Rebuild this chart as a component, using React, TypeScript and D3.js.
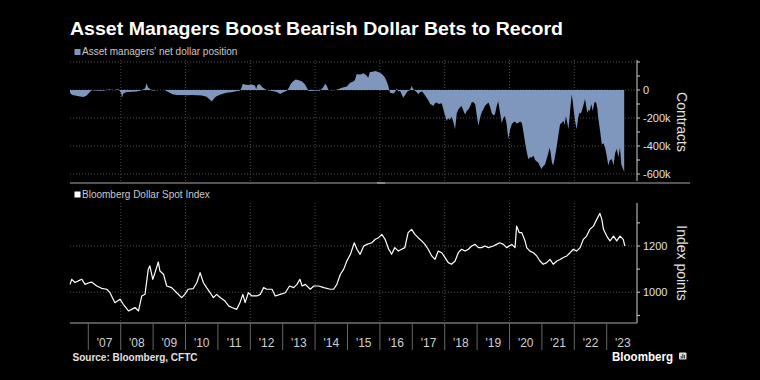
import React, { useEffect } from "react";
import * as d3 from "d3";

// ---- Data ----
// Asset managers' net dollar position (thousand contracts), decimal years
const positionYears = [
  2006.435, 2006.5, 2006.59, 2006.7, 2006.85, 2006.95, 2007.05, 2007.1, 2007.36, 2007.5, 2007.62, 2007.8, 2007.93,
  2008.01, 2008.04, 2008.08, 2008.19, 2008.35, 2008.49, 2008.6, 2008.75, 2008.8, 2008.84, 2008.9, 2008.98,
  2009.06, 2009.21, 2009.35, 2009.47, 2009.6, 2009.73, 2009.9, 2010.04, 2010.2, 2010.35, 2010.5, 2010.65,
  2010.78, 2010.81, 2010.9, 2010.96, 2011.1, 2011.27, 2011.45, 2011.6, 2011.68, 2011.72, 2011.77, 2011.85,
  2011.95, 2012.05, 2012.15, 2012.18, 2012.22, 2012.28, 2012.35, 2012.4, 2012.5, 2012.6, 2012.76, 2012.85,
  2012.92, 2013.0, 2013.13, 2013.2, 2013.25, 2013.33, 2013.4, 2013.5, 2013.6, 2013.69, 2013.75, 2013.79,
  2013.9, 2014.0, 2014.15, 2014.25, 2014.31, 2014.36, 2014.41, 2014.55, 2014.67, 2014.8, 2014.98, 2015.08,
  2015.18, 2015.23, 2015.28, 2015.4, 2015.49, 2015.58, 2015.64, 2015.69, 2015.78, 2015.85, 2015.93, 2016.0,
  2016.08, 2016.16, 2016.22, 2016.26, 2016.31, 2016.36, 2016.42, 2016.47, 2016.52, 2016.57, 2016.62, 2016.67,
  2016.72, 2016.78, 2016.85, 2016.93, 2016.98, 2017.03, 2017.08, 2017.13, 2017.19, 2017.24, 2017.3, 2017.37,
  2017.44, 2017.5, 2017.55, 2017.6, 2017.65, 2017.7, 2017.75, 2017.82, 2017.91, 2017.96, 2018.01, 2018.06,
  2018.11, 2018.16, 2018.21, 2018.27, 2018.32, 2018.37, 2018.42, 2018.47, 2018.52, 2018.58, 2018.63, 2018.68,
  2018.73, 2018.78, 2018.83, 2018.88, 2018.94, 2018.99, 2019.04, 2019.09, 2019.14, 2019.19, 2019.24, 2019.3,
  2019.35, 2019.4, 2019.45, 2019.5, 2019.55, 2019.6, 2019.65, 2019.7, 2019.76, 2019.81, 2019.86, 2019.91,
  2019.96, 2020.02, 2020.07, 2020.12, 2020.17, 2020.22, 2020.27, 2020.33, 2020.38, 2020.43, 2020.48, 2020.53,
  2020.58, 2020.63, 2020.68, 2020.74, 2020.79, 2020.84, 2020.89, 2020.94, 2020.99, 2021.04, 2021.1, 2021.15,
  2021.2, 2021.24, 2021.27, 2021.31, 2021.35, 2021.4, 2021.46, 2021.51, 2021.56, 2021.61, 2021.66, 2021.7,
  2021.74, 2021.78, 2021.82, 2021.87, 2021.92, 2021.95, 2021.99, 2022.03, 2022.07, 2022.12, 2022.16, 2022.2,
  2022.23, 2022.28, 2022.33, 2022.37, 2022.4, 2022.44, 2022.48, 2022.52, 2022.57, 2022.62, 2022.67, 2022.71,
  2022.74, 2022.8, 2022.85, 2022.9, 2022.95, 2023.0, 2023.05, 2023.1, 2023.16, 2023.21, 2023.26, 2023.31,
  2023.36, 2023.41, 2023.45, 2023.5, 2023.54,
];
const positionValues = [
  -20, -35, -40, -45, -50, -40, -15, -2, -5, -3, 3, 0, 5,
  -20, -55, -25, -15, -12, -10, -5, 10, 48, 20, 8, -5,
  -2, 0, 0, -15, -30, -35, -35, -38, -35, -38, -40, -48,
  -75, -82, -55, -45, -30, -20, -15, -8, -5, 10, 45, 38,
  35, 40, 30, 5, 35, 42, 25, 15, 0, -3, -10, -18,
  -28, -18, -5, 20, 45, 65, 75, 70, 60, 40, 15, -5,
  -8, -3, -5, 20, 45, 30, 0, -2, 2, 15, 25, 52,
  60, 71, 112, 110, 119, 105, 88, 128, 130, 135, 130, 124,
  110, 88, 55, 28, -19, -22, -25, -15, 10, -10, -5, -30,
  -55, -35, -10, 0, 28, 5, -5, -15, -30, -15, -10, -30,
  -55, -75, -100, -105, -115, -95, -90, -100, -95, -140, -180, -220,
  -200, -215, -190, -230, -280, -170, -140, -125, -115, -150, -175, -150,
  -140, -120, -90, -85, -100, -180, -255, -200, -160, -140, -115, -100,
  -90, -120, -165, -180, -175, -120, -80, -150, -235, -200, -185, -240,
  -350, -280, -245, -230, -225, -240, -235, -225, -235, -300, -375, -440,
  -495, -480, -483, -470, -500, -510, -520, -545, -565, -545, -530, -490,
  -450, -410, -450, -520, -540, -480, -400, -320, -245, -235, -220, -250,
  -185, -230, -280, -150, -30, -80, -160, -230, -280, -200, -160, -170,
  -150, -110, -65, -120, -165, -140, -150, -100, -150, -90, -85, -130,
  -200, -300, -390, -380, -410, -470, -540, -500, -495, -540, -450, -420,
  -480, -410, -530, -560, -585,
];

// Bloomberg Dollar Spot Index (index points)
const indexYears = [
  2006.435, 2006.49, 2006.59, 2006.69, 2006.8, 2006.9, 2007.0, 2007.1, 2007.26, 2007.41, 2007.57, 2007.67,
  2007.82, 2007.98, 2008.08, 2008.24, 2008.34, 2008.44, 2008.55, 2008.65, 2008.75, 2008.85, 2008.9, 2008.99,
  2009.06, 2009.16, 2009.21, 2009.32, 2009.42, 2009.57, 2009.73, 2009.88, 2009.98, 2010.08, 2010.24, 2010.35,
  2010.45, 2010.55, 2010.65, 2010.76, 2010.86, 2010.96, 2011.07, 2011.22, 2011.33, 2011.43, 2011.58, 2011.68,
  2011.77, 2011.84, 2011.94, 2012.05, 2012.2, 2012.31, 2012.41, 2012.51, 2012.67, 2012.77, 2012.92, 2013.08,
  2013.21, 2013.34, 2013.44, 2013.53, 2013.6, 2013.7, 2013.85, 2013.96, 2014.11, 2014.27, 2014.47, 2014.57,
  2014.67, 2014.78, 2014.88, 2014.98, 2015.09, 2015.21, 2015.29, 2015.39, 2015.5, 2015.6, 2015.75, 2015.86,
  2015.96, 2016.06, 2016.16, 2016.27, 2016.31, 2016.36, 2016.46, 2016.57, 2016.67, 2016.77, 2016.87, 2016.98,
  2017.08, 2017.18, 2017.29, 2017.39, 2017.49, 2017.6, 2017.7, 2017.8, 2017.91, 2018.01, 2018.11, 2018.21,
  2018.32, 2018.42, 2018.52, 2018.63, 2018.73, 2018.83, 2018.94, 2019.04, 2019.14, 2019.24, 2019.35, 2019.5,
  2019.6, 2019.7, 2019.81, 2019.91, 2020.07, 2020.17, 2020.22, 2020.3, 2020.38, 2020.48, 2020.53, 2020.63,
  2020.74, 2020.84, 2020.94, 2021.04, 2021.15, 2021.25, 2021.35, 2021.46, 2021.56, 2021.66, 2021.77, 2021.87,
  2021.97, 2022.07, 2022.18, 2022.28, 2022.38, 2022.48, 2022.59, 2022.69, 2022.79, 2022.85, 2022.9, 2023.0,
  2023.1, 2023.21, 2023.31, 2023.41, 2023.51, 2023.56,
];
const indexValues = [
  1034, 1056, 1042, 1049, 1056, 1034, 1040, 1044, 1027, 1017, 1013, 998,
  955, 970, 948, 919, 926, 934, 919, 984, 991, 1099, 1114, 1056,
  1085, 1131, 1092, 1078, 1027, 1020, 998, 977, 991, 1013, 1016, 1042,
  1085, 1042, 1020, 998, 977, 991, 977, 962, 941, 934, 926, 955,
  991, 955, 998, 984, 984, 991, 1020, 1013, 1013, 984, 991, 998,
  1027, 1020, 1034, 1056, 1027, 1034, 1013, 1027, 1027, 1020, 1013, 1013,
  1034, 1078, 1099, 1135, 1164, 1214, 1186, 1164, 1200, 1207, 1214, 1229,
  1236, 1250, 1229, 1186, 1178, 1164, 1193, 1178, 1186, 1193, 1258, 1272,
  1250, 1236, 1222, 1207, 1186, 1157, 1142, 1178, 1171, 1150, 1128, 1121,
  1135, 1171, 1186, 1178, 1186, 1200, 1207, 1193, 1193, 1200, 1193, 1200,
  1207, 1214, 1207, 1193, 1207, 1193, 1286, 1258, 1258, 1222, 1193, 1178,
  1171, 1157, 1135, 1121, 1128, 1142, 1121, 1135, 1142, 1150, 1157, 1171,
  1186, 1178, 1193, 1229, 1243, 1272, 1286, 1315, 1341, 1315, 1272, 1243,
  1222, 1243, 1222, 1243, 1229, 1200,
];

const yearTicks = [2007, 2008, 2009, 2010, 2011, 2012, 2013, 2014, 2015, 2016, 2017, 2018, 2019, 2020, 2021, 2022, 2023];
const yearLabels = ["'07", "'08", "'09", "'10", "'11", "'12", "'13", "'14", "'15", "'16", "'17", "'18", "'19", "'20", "'21", "'22", "'23"];
const gridYears = [2008, 2010, 2012, 2014, 2016, 2018, 2020, 2022];
const positionTicks = [200, 100, 0, -100, -200, -300, -400, -500, -600];
const positionGrid = [200, 0, -200, -400, -600];
const positionLabelValues = [0, -200, -400, -600];
const positionLabels = ["0", "-200k", "-400k", "-600k"];
const indexTicks = [900, 1000, 1100, 1200, 1300];
const indexLabelValues = [1000, 1200];
const indexLabels = ["1000", "1200"];

const FONT = "'Liberation Sans', Arial, sans-serif";

export default function App() {
  useEffect(() => {
    document.body.style.margin = "0";
    document.body.style.background = "#000";
  }, []);

  const x = d3.scaleLinear().domain([2006.435, 2023.935]).range([70, 637]);
  const yTop = d3.scaleLinear().domain([-650, 210]).range([181, 60.6]);
  const yBot = d3.scaleLinear().domain([867, 1386]).range([323, 203]);

  const posData = positionYears.map((t, i) => [t, positionValues[i]] as [number, number]);
  const idxData = indexYears.map((t, i) => [t, indexValues[i]] as [number, number]);

  const area = d3
    .area<[number, number]>()
    .x((d) => x(d[0]))
    .y0(yTop(0))
    .y1((d) => yTop(d[1]));
  const line = d3
    .line<[number, number]>()
    .x((d) => x(d[0]))
    .y((d) => yBot(d[1]));

  const axisX = 637;
  const gridColor = "#4a4a4a";

  return (
    <svg width={760} height={380} style={{ display: "block", background: "#000" }} fontFamily={FONT}>
      <rect x={0} y={0} width={760} height={380} fill="#000" />
      <text x={70} y={35} fill="#fff" fontSize={19} fontWeight="bold" textLength={493} lengthAdjust="spacingAndGlyphs">
        Asset Managers Boost Bearish Dollar Bets to Record
      </text>

      {/* Top panel legend */}
      <rect x={74.5} y={49} width={6} height={6} fill="#8097bd" />
      <text x={82} y={55} fill="#c8c8c8" fontSize={10}>
        Asset managers' net dollar position
      </text>

      {/* Top panel grid */}
      {gridYears.map((g) => (
        <line key={"tg" + g} x1={x(g)} x2={x(g)} y1={60} y2={181} stroke={gridColor} strokeDasharray="1,2" />
      ))}
      {positionGrid.map((v) => (
        <line key={"th" + v} x1={70} x2={axisX} y1={yTop(v)} y2={yTop(v)} stroke={gridColor} strokeDasharray="1,2" />
      ))}

      <path d={area(posData) || ""} fill="#8097bd" />

      {/* Top right axis */}
      <line x1={axisX} x2={axisX} y1={60} y2={181} stroke="#d0d0d0" strokeWidth={1} />
      {positionTicks.map((v) => (
        <line key={"tt" + v} x1={axisX} x2={axisX + 3} y1={yTop(v)} y2={yTop(v)} stroke="#d0d0d0" />
      ))}
      {positionLabelValues.map((v, i) => (
        <text key={"tl" + v} x={643} y={yTop(v) + 4} fill="#e0e0e0" fontSize={11}>
          {positionLabels[i]}
        </text>
      ))}
      <text transform="translate(677,122) rotate(90)" textAnchor="middle" fill="#e0e0e0" fontSize={14}>
        Contracts
      </text>

      {/* separator bar */}
      <line x1={70} x2={690} y1={183} y2={183} stroke="#555" strokeWidth={2} />
      <line x1={377} x2={385} y1={183} y2={183} stroke="#888" strokeWidth={2} />

      {/* Bottom legend */}
      <rect x={74.5} y={191.5} width={6} height={6} fill="#fff" />
      <text x={82} y={198} fill="#c8c8c8" fontSize={10}>
        Bloomberg Dollar Spot Index
      </text>

      {/* Bottom grid */}
      {gridYears.map((g) => (
        <line key={"bg" + g} x1={x(g)} x2={x(g)} y1={203} y2={323} stroke={gridColor} strokeDasharray="1,2" />
      ))}
      {indexLabelValues.map((v) => (
        <line key={"bh" + v} x1={70} x2={axisX} y1={yBot(v)} y2={yBot(v)} stroke={gridColor} strokeDasharray="1,2" />
      ))}

      <path d={line(idxData) || ""} fill="none" stroke="#fff" strokeWidth={1.2} strokeLinejoin="round" />

      {/* Bottom right axis */}
      <line x1={axisX} x2={axisX} y1={203} y2={323} stroke="#d0d0d0" />
      {indexTicks.map((v) => (
        <line key={"bt" + v} x1={axisX} x2={axisX + 3} y1={yBot(v)} y2={yBot(v)} stroke="#d0d0d0" />
      ))}
      {indexLabelValues.map((v, i) => (
        <text key={"bl" + v} x={643} y={yBot(v) + 4} fill="#e0e0e0" fontSize={11}>
          {indexLabels[i]}
        </text>
      ))}
      <text transform="translate(677,263) rotate(90)" textAnchor="middle" fill="#e0e0e0" fontSize={14}>
        Index points
      </text>

      {/* X axis */}
      <line x1={70} x2={axisX} y1={323} y2={323} stroke="#aaa" />
      {yearTicks.map((t) => (
        <line key={"xt" + t} x1={x(t)} x2={x(t)} y1={323} y2={350} stroke="#666" />
      ))}
      {yearTicks.map((t, i) => (
        <text key={"xl" + t} x={x(t + 0.5)} y={347} textAnchor="middle" fill="#d0d0d0" fontSize={12}>
          {yearLabels[i]}
        </text>
      ))}

      {/* Footer */}
      <text x={72.5} y={361} fill="#e0e0e0" fontSize={10} fontWeight="bold">
        Source: Bloomberg, CFTC
      </text>
      <text x={612} y={361} fill="#fff" fontSize={12.5} fontWeight="bold" textLength={61} lengthAdjust="spacingAndGlyphs">
        Bloomberg
      </text>
      <rect x={679} y={352.5} width={7.5} height={7} rx={1} fill="#ddd" />
      <line x1={681.2} x2={681.2} y1={356} y2={358.5} stroke="#000" strokeWidth={0.8} />
      <line x1={682.8} x2={682.8} y1={354} y2={358.5} stroke="#000" strokeWidth={0.8} />
      <line x1={684.4} x2={684.4} y1={355} y2={358.5} stroke="#000" strokeWidth={0.8} />
    </svg>
  );
}
